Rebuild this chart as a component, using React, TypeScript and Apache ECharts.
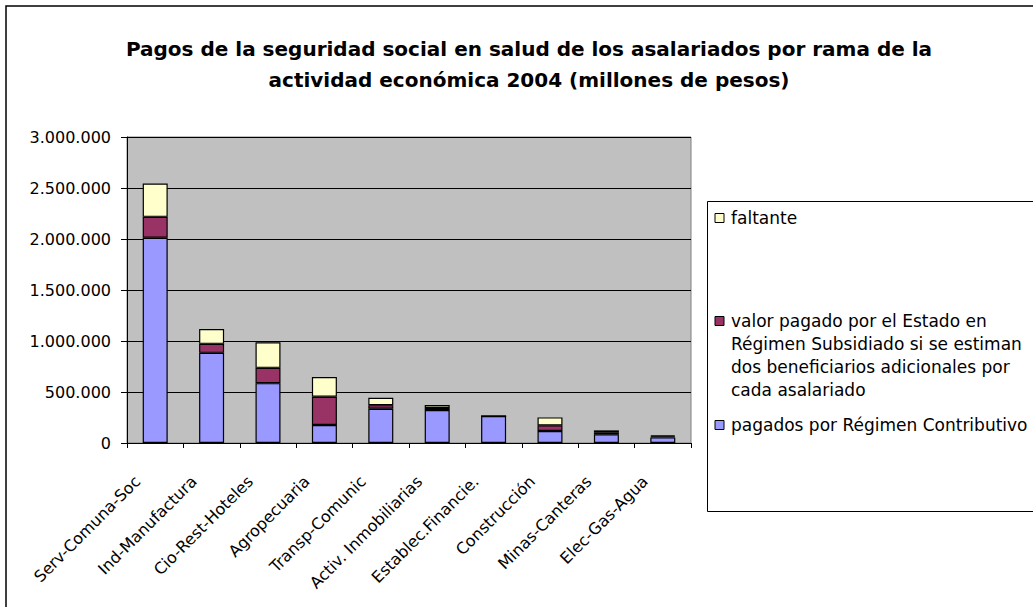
import React, { useEffect, useRef } from "react";
import * as echarts from "echarts";

const categories = [
  "Serv-Comuna-Soc",
  "Ind-Manufactura",
  "Cio-Rest-Hoteles",
  "Agropecuaria",
  "Transp-Comunic",
  "Activ. Inmobiliarias",
  "Establec.Financie.",
  "Construcción",
  "Minas-Canteras",
  "Elec-Gas-Agua",
];
const contributivo = [2012000, 884000, 587000, 176000, 336000, 323000, 264000, 117000, 85000, 55000];
const subsidiado = [205000, 88000, 150000, 277000, 35000, 20000, 0, 56000, 20000, 10000];
const faltante = [327000, 146000, 251000, 193000, 72000, 29000, 0, 78000, 19000, 10000];
const yTicks = { min: 0, max: 3000000, interval: 500000 };

const titleText =
  "Pagos de la seguridad social en salud de los asalariados por rama de la\nactividad económica 2004 (millones de pesos)";
const nameFaltante = "faltante";
const nameSubsidiado =
  "valor pagado por el Estado en\nRégimen Subsidiado si se estiman\ndos beneficiarios adicionales por\ncada asalariado";
const nameContributivo = "pagados por Régimen Contributivo";

const FONT = "'DejaVu Sans', sans-serif";
const colFaltante = "#FFFFCC";
const colSubsidiado = "#993366";
const colContributivo = "#9999FF";

const fmt = (v: number) => String(v).replace(/\B(?=(\d{3})+(?!\d))/g, ".");

export default function App() {
  const ref = useRef<HTMLDivElement>(null);
  useEffect(() => {
    if (!ref.current) return;
    const chart = echarts.init(ref.current, null, { renderer: "svg" });
    const barStyle = (c: string) => ({ color: c, borderColor: "#000", borderWidth: 1.2 });
    const legendItem = (y: number, color: string, text: string) => [
      {
        type: "rect",
        shape: { x: 715, y: y - 4.5, width: 9, height: 9 },
        style: { fill: color, stroke: "#000", lineWidth: 1 },
        z: 10,
      },
      {
        type: "text",
        x: 731,
        y: y - 11.5,
        style: {
          text,
          font: `17px ${FONT}`,
          fill: "#000",
          lineHeight: 23,
          textVerticalAlign: "top",
        },
        z: 10,
      },
    ];
    chart.setOption({
      animation: false,
      backgroundColor: "#fff",
      title: {
        text: titleText,
        left: 524,
        top: 28,
        textAlign: "center",
        textStyle: {
          fontFamily: FONT,
          fontSize: 20,
          fontWeight: "bold",
          color: "#000",
          lineHeight: 31,
        },
      },
      grid: {
        left: 127,
        top: 137,
        width: 564,
        height: 306,
        show: true,
        backgroundColor: "#C0C0C0",
        borderColor: "#808080",
        borderWidth: 1,
      },
      xAxis: {
        type: "category",
        data: categories,
        axisLine: { show: true, lineStyle: { color: "#000", width: 1 } },
        axisTick: { show: true, length: 5, interval: 0, lineStyle: { color: "#000" } },
        axisLabel: {
          rotate: 45,
          interval: 0,
          margin: 18,
          padding: [0, 25, 0, 0],
          fontFamily: FONT,
          fontSize: 16,
          color: "#000",
        },
      },
      yAxis: {
        type: "value",
        min: yTicks.min,
        max: yTicks.max,
        interval: yTicks.interval,
        axisLine: { show: true, lineStyle: { color: "#000", width: 1 } },
        axisTick: { show: true, length: 6, lineStyle: { color: "#000" } },
        splitLine: { show: true, lineStyle: { color: "#000", width: 1 } },
        axisLabel: {
          margin: 16,
          fontFamily: FONT,
          fontSize: 16,
          color: "#000",
          formatter: (v: number) => fmt(v),
        },
      },
      series: [
        {
          name: nameContributivo,
          type: "bar",
          stack: "total",
          barWidth: 25,
          data: contributivo,
          itemStyle: barStyle(colContributivo),
        },
        {
          name: nameSubsidiado,
          type: "bar",
          stack: "total",
          barWidth: 25,
          data: subsidiado,
          itemStyle: barStyle(colSubsidiado),
        },
        {
          name: nameFaltante,
          type: "bar",
          stack: "total",
          barWidth: 25,
          data: faltante,
          itemStyle: barStyle(colFaltante),
        },
      ],
      graphic: [
        {
          type: "rect",
          shape: { x: 6, y: 6, width: 1100, height: 700 },
          style: { fill: "none", stroke: "#000", lineWidth: 1.5 },
          silent: true,
          z: 0,
        },
        {
          type: "rect",
          shape: { x: 707.5, y: 201.5, width: 400, height: 310 },
          style: { fill: "#fff", stroke: "#000", lineWidth: 1 },
          z: 5,
        },
        ...legendItem(218, colFaltante, nameFaltante),
        ...legendItem(321, colSubsidiado, nameSubsidiado),
        ...legendItem(425, colContributivo, nameContributivo),
      ],
    });
    return () => chart.dispose();
  }, []);
  return (
    <div
      ref={ref}
      style={{ position: "fixed", left: 0, top: 0, width: 1033, height: 607 }}
    />
  );
}
